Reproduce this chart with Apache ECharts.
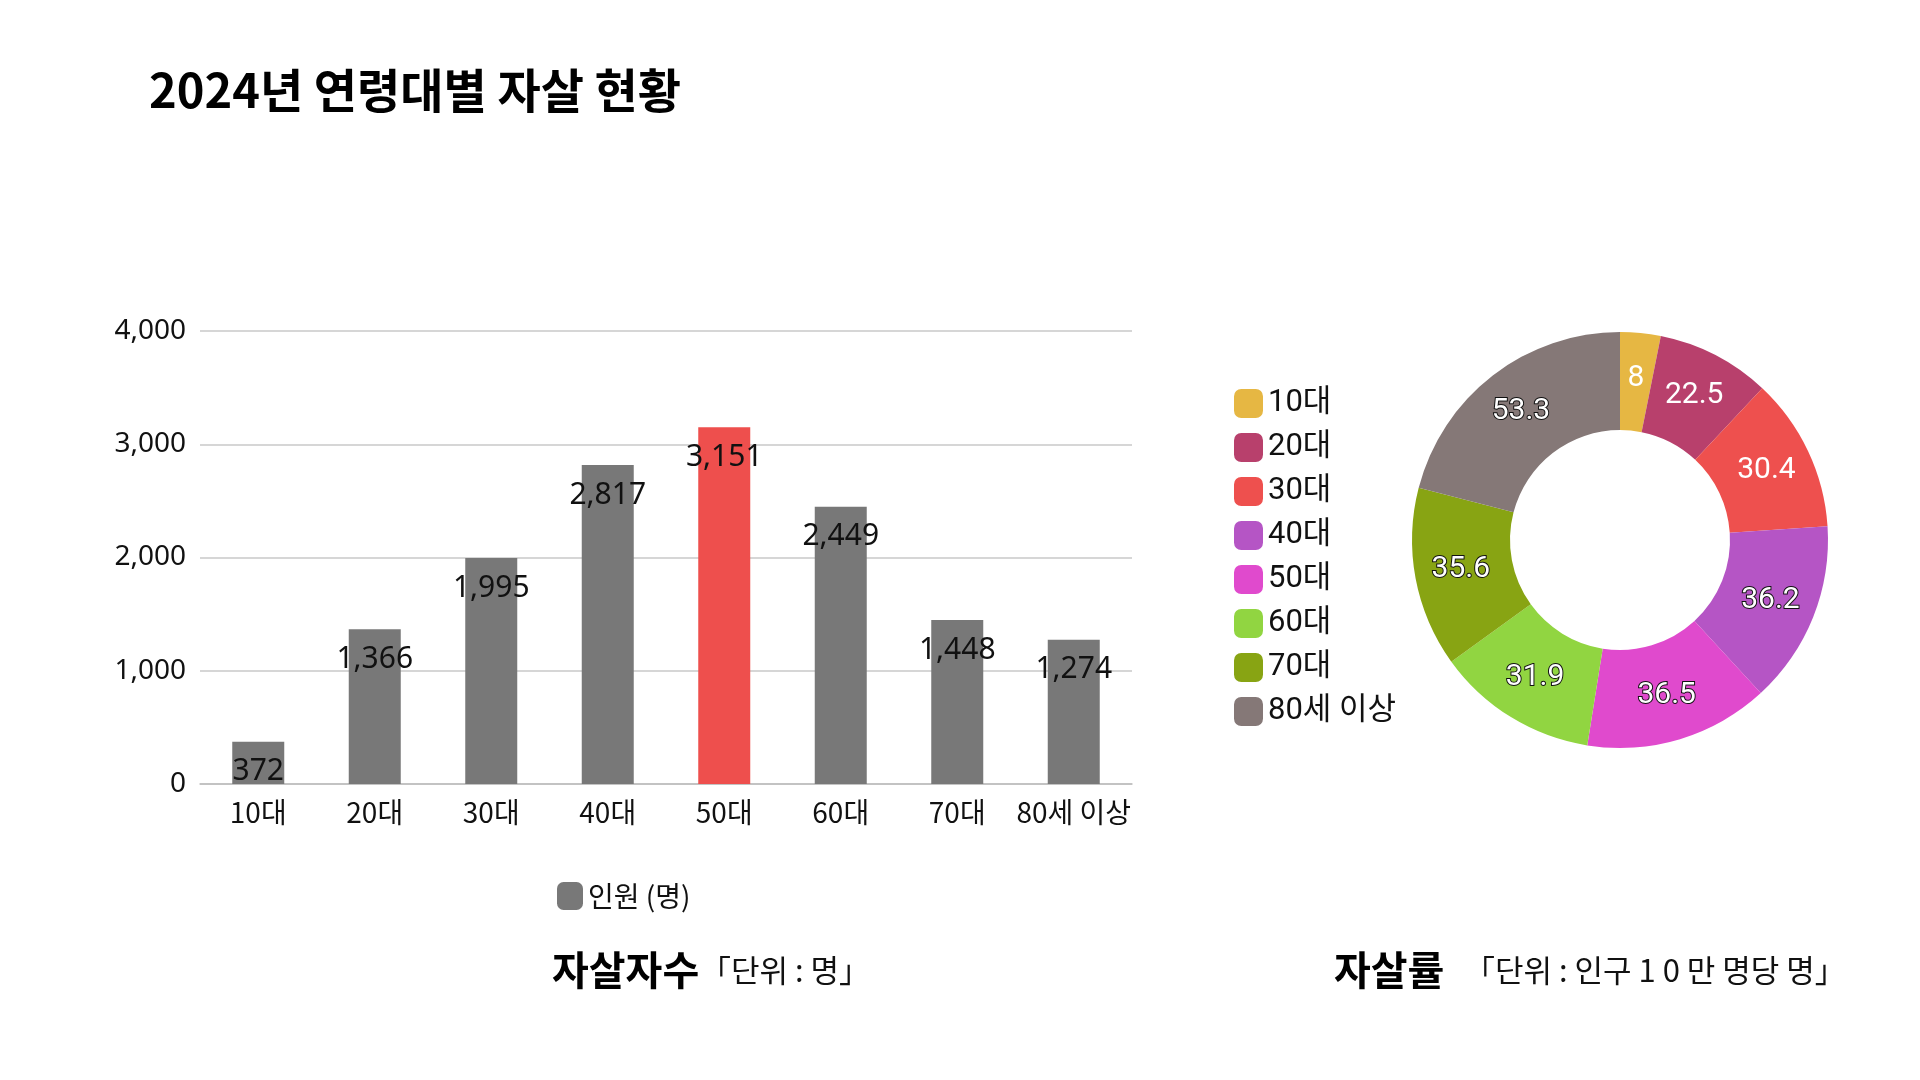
<!DOCTYPE html>
<html>
<head>
<meta charset="utf-8">
<style>
  html, body { margin: 0; padding: 0; background: #fff; }
  #chart { width: 1920px; height: 1080px; }
</style>
<script src="https://cdn.jsdelivr.net/npm/echarts@6/dist/echarts.min.js"></script>
</head>
<body>
<div id="chart"></div>
<script>
// 연령대별 자살자 수 (명)
var ageGroups = ['10대', '20대', '30대', '40대', '50대', '60대', '70대', '80세 이상'];
var suicideCounts = [372, 1366, 1995, 2817, 3151, 2449, 1448, 1274];
// 인구 10만 명당 자살률
var suicideRates = [8, 22.5, 30.4, 36.2, 36.5, 31.9, 35.6, 53.3];
var yTicks = [0, 1000, 2000, 3000, 4000];

var sliceColors = ['#E6B743', '#B8406C', '#EE504E', '#B555C5', '#E04ACD', '#91D541', '#88A413', '#857877'];
var plainLabels = ['10대', '20대', '30대']; // 테두리 없는 흰 라벨

var chart = echarts.init(document.getElementById('chart'));

var barData = suicideCounts.map(function (v, i) {
  return {
    value: v,
    itemStyle: { color: ageGroups[i] === '50대' ? '#EE4F4D' : '#787878' }
  };
});

var pieData = suicideRates.map(function (v, i) {
  var plain = plainLabels.indexOf(ageGroups[i]) >= 0;
  return {
    name: ageGroups[i],
    value: v,
    label: {
      textBorderColor: plain ? 'transparent' : '#111',
      textBorderWidth: plain ? 0 : 2
    }
  };
});

var option = {
  backgroundColor: '#fff',
  animation: false,
  textStyle: { fontFamily: 'Noto Sans, Noto Sans CJK KR' },
  title: {
    text: '2024년 연령대별 자살 현황',
    left: 144,
    top: 62,
    textStyle: {
      fontFamily: 'Noto Sans CJK KR',
      fontSize: 47,
      fontWeight: 'bold',
      color: '#000'
    }
  },
  legend: [
    {
      data: ['인원 (명)'],
      left: 552,
      top: 877,
      icon: 'roundRect',
      itemWidth: 26,
      itemHeight: 28,
      itemGap: 6,
      textStyle: { fontSize: 28, color: '#111', fontFamily: 'Noto Sans CJK KR' }
    },
    {
      data: ageGroups,
      orient: 'vertical',
      left: 1229,
      top: 383,
      icon: 'roundRect',
      itemWidth: 29,
      itemHeight: 29,
      itemGap: 13,
      textStyle: { fontSize: 31, lineHeight: 29, color: '#111', fontFamily: 'Roboto, Noto Sans CJK KR' }
    }
  ],
  grid: { left: 200, right: 788, top: 331, bottom: 296 },
  xAxis: {
    type: 'category',
    data: ageGroups,
    axisTick: { show: false },
    axisLine: { lineStyle: { color: '#bdbdbd', width: 1.5 } },
    axisLabel: { interval: 0, fontSize: 28, color: '#111', margin: 14, fontFamily: 'Noto Sans CJK KR' }
  },
  yAxis: {
    type: 'value',
    min: yTicks[0],
    max: yTicks[yTicks.length - 1],
    interval: 1000,
    axisLine: { show: false },
    axisTick: { show: false },
    splitLine: { lineStyle: { color: '#c8c8c8', width: 1.5 } },
    axisLabel: {
      fontSize: 28,
      color: '#111',
      margin: 14,
      formatter: function (v) { return v.toLocaleString('en-US'); }
    }
  },
  series: [
    {
      name: '인원 (명)',
      type: 'bar',
      data: barData,
      barWidth: 52,
      itemStyle: { color: '#787878' },
      label: {
        show: true,
        position: 'insideTop',
        distance: 15,
        fontSize: 30,
        color: '#111',
        formatter: function (p) { return p.value.toLocaleString('en-US'); }
      }
    },
    {
      name: '자살률',
      type: 'pie',
      center: [1620, 540],
      radius: [110, 208],
      startAngle: 90,
      clockwise: true,
      data: pieData,
      color: sliceColors,
      label: {
        show: true,
        position: 'inside',
        formatter: '{c}',
        fontSize: 30,
        color: '#fff',
        fontFamily: 'Roboto'
      },
      labelLine: { show: false },
      emphasis: { disabled: true }
    }
  ],
  graphic: [
    {
      type: 'text', left: 552, top: 950,
      style: { text: '자살자수', font: 'bold 40px "Noto Sans CJK KR"', fill: '#000' }
    },
    {
      type: 'text', left: 700, top: 955,
      style: { text: '「단위 : 명」', font: '31px "Noto Sans CJK KR"', fill: '#111' }
    },
    {
      type: 'text', left: 1334, top: 950,
      style: { text: '자살률', font: 'bold 40px "Noto Sans CJK KR"', fill: '#000' }
    },
    {
      type: 'text', left: 1464, top: 955,
      style: { text: '「단위 : 인구 1 0 만 명당 명」', font: '31px "Noto Sans CJK KR"', fill: '#111' }
    }
  ]
};

chart.setOption(option);
</script>
</body>
</html>
